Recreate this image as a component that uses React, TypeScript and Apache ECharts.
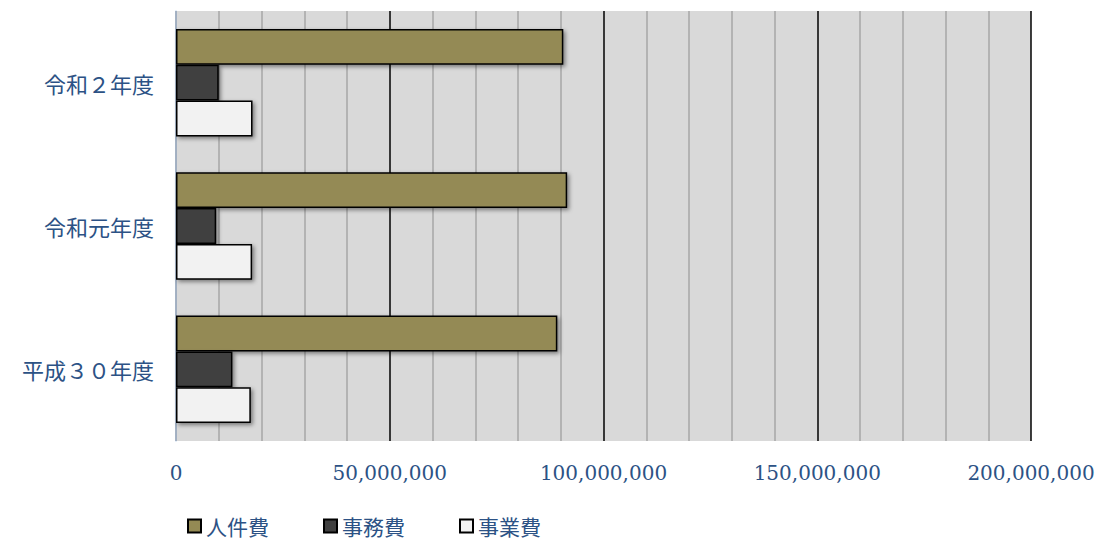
import React, { useEffect, useRef } from "react";
import * as echarts from "echarts";

const categories = ["平成３０年度", "令和元年度", "令和２年度"];
const personnel = [89200000, 91500000, 90600000]; // 人件費
const office = [13200000, 9400000, 10000000]; // 事務費
const project = [17500000, 17800000, 17900000]; // 事業費
const legendOrder = ["人件費", "事務費", "事業費"];

const textColor = "#2c5285";

export default function App() {
  const ref = useRef<HTMLDivElement>(null);
  useEffect(() => {
    if (!ref.current) return;
    const chart = echarts.init(ref.current, null, { renderer: "svg" });
    const barStyle = (color: string) => ({
      color,
      borderColor: "#000",
      borderWidth: 1.5,
      shadowColor: "rgba(0,0,0,0.45)",
      shadowBlur: 4,
      shadowOffsetX: 2,
      shadowOffsetY: 2,
    });
    chart.setOption({
      animation: false,
      backgroundColor: "#fff",
      grid: {
        left: 176,
        right: 71,
        top: 11,
        bottom: 99,
        show: true,
        backgroundColor: "#d9d9d9",
        borderWidth: 0,
      },
      legend: {
        data: legendOrder.map((name) => ({ name, icon: "rect" })),
        left: 187,
        top: 514,
        padding: 0,
        itemWidth: 13,
        itemHeight: 13,
        itemGap: 54,
        textStyle: {
          fontFamily: "Noto Sans CJK JP",
          fontSize: 21,
          lineHeight: 24,
          color: textColor,
        },
      },
      xAxis: {
        type: "value",
        min: 0,
        max: 200000000,
        interval: 50000000,
        axisLine: { show: false },
        axisTick: { show: false },
        axisLabel: {
          margin: 22,
          fontFamily: "DejaVu Serif",
          fontSize: 20,
          color: textColor,
          formatter: (v: number) => v.toLocaleString("en-US"),
        },
        splitLine: { show: true, lineStyle: { color: "#000", width: 1.5 } },
        minorTick: { show: false, splitNumber: 5 },
        minorSplitLine: { show: true, lineStyle: { color: "#a6a6a6", width: 1.5 } },
      },
      yAxis: {
        type: "category",
        data: categories,
        axisLine: { show: true, lineStyle: { color: "#c6d9f1", width: 1.5 } },
        axisTick: { show: false },
        axisLabel: {
          margin: 22,
          fontFamily: "Noto Sans CJK JP",
          fontSize: 22,
          color: textColor,
        },
      },
      series: [
        {
          name: "人件費",
          type: "bar",
          data: personnel,
          barGap: "0%",
          barCategoryGap: "25%",
          itemStyle: barStyle("#948a54"),
          z: 3,
        },
        {
          name: "事務費",
          type: "bar",
          data: office,
          barGap: "0%",
          barCategoryGap: "25%",
          itemStyle: barStyle("#404040"),
          z: 3,
        },
        {
          name: "事業費",
          type: "bar",
          data: project,
          barGap: "0%",
          barCategoryGap: "25%",
          itemStyle: barStyle("#f2f2f2"),
          z: 3,
        },
      ],
    });
    return () => chart.dispose();
  }, []);
  return (
    <div
      ref={ref}
      style={{ position: "absolute", left: 0, top: 0, width: 1102, height: 540 }}
    />
  );
}
